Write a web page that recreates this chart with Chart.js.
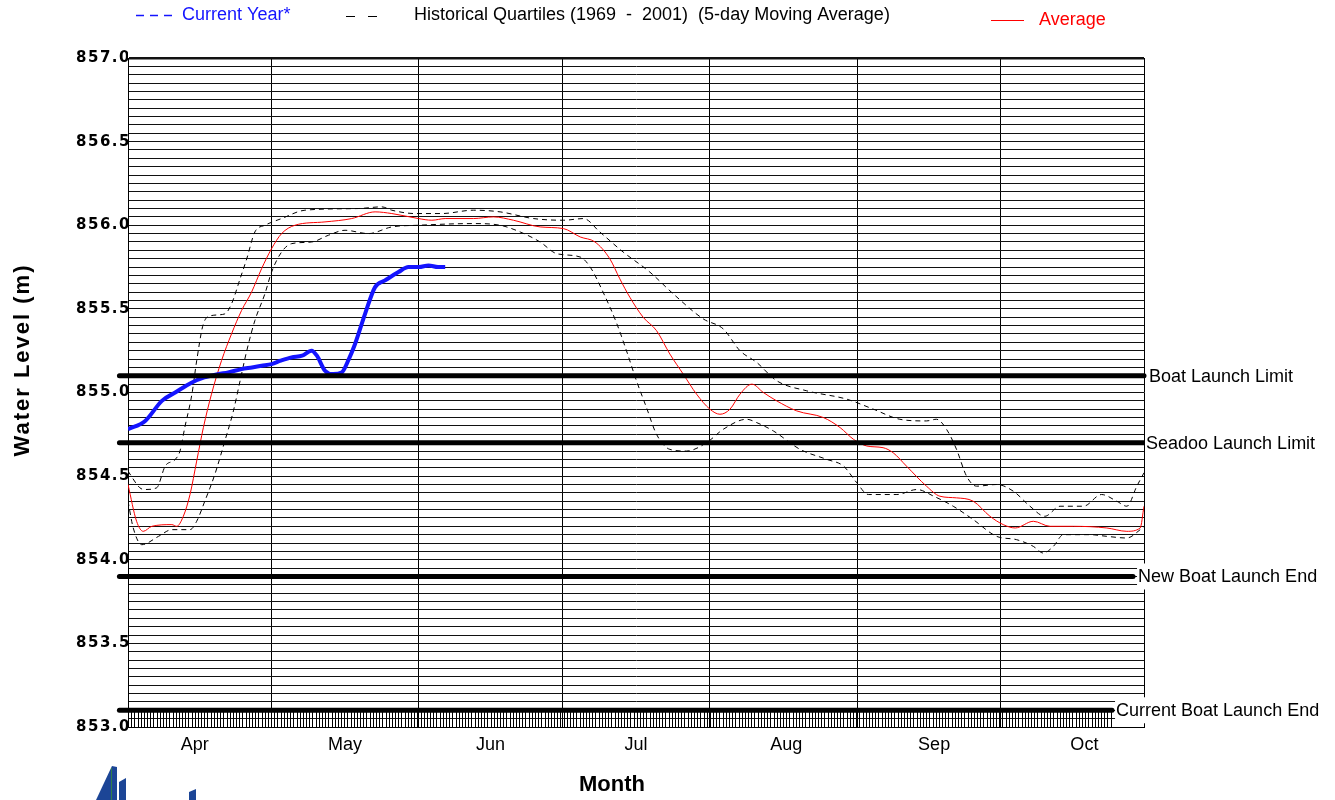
<!DOCTYPE html>
<html><head><meta charset="utf-8">
<script src="https://cdn.jsdelivr.net/npm/chart.js@4.4.1/dist/chart.umd.min.js"></script>
<style>html,body{margin:0;padding:0;background:#fff;} #wrap{width:1335px;height:800px;position:relative;}</style>
</head><body><div id="wrap"><canvas id="c" width="1335" height="800"></canvas></div>
<script>
// ---- axis / tick data (x = days since Apr 1) ----
const monthStartDays = [0, 30, 61, 91, 122, 153, 183, 213];
const monthLabelDays = [14, 45.5, 76, 106.5, 138, 169, 200.5];
const monthLabels = ['Apr', 'May', 'Jun', 'Jul', 'Aug', 'Sep', 'Oct'];
const yMin = 853.0, yMax = 857.0, yGridStep = 0.05, yLabelStep = 0.5;

// ---- Current year ----
const curDays = [0, 3.6, 7.1, 9.9, 13.4, 16, 18.9, 21, 23.8, 26, 28, 30.1, 32, 34.3, 36.5, 38.5, 39.6, 41.3, 43.0, 44.8, 46.3, 47.6, 49.7, 51.8, 53.9, 56.7, 58.8, 61, 63, 65, 66.5];
const curLevels = [854.78, 854.83, 854.95, 855.00, 855.06, 855.09, 855.11, 855.12, 855.14, 855.15, 855.16, 855.17, 855.19, 855.21, 855.22, 855.25, 855.22, 855.13, 855.11, 855.12, 855.20, 855.29, 855.47, 855.63, 855.67, 855.72, 855.75, 855.75, 855.76, 855.75, 855.75];

// ---- Average ----
const avgDays = [0, 1.8, 3.2, 5.0, 9.2, 10.2, 11.6, 13.0, 14.4, 15.8, 17.5, 19.6, 21.7, 23.8, 25.9, 28.0, 30.1, 32.2, 35.0, 41.3, 46.9, 51.8, 55.3, 60.9, 63.7, 66.5, 72.4, 76.6, 80.8, 86.4, 91.3, 94.8, 97.9, 101.0, 103.1, 105.2, 108.0, 110.8, 113.6, 116.4, 119.2, 122.0, 124.1, 126.2, 128.3, 130.8, 133.2, 136.0, 140.2, 145.8, 149.3, 152.1, 154.9, 158.3, 160.4, 163.2, 167.4, 170.2, 173.7, 177.2, 180.7, 183.5, 186.0, 189.8, 193.3, 198.2, 205.2, 209.4, 212.2, 213];
const avgLevels = [854.45, 854.23, 854.17, 854.20, 854.21, 854.20, 854.26, 854.39, 854.59, 854.79, 854.99, 855.19, 855.35, 855.49, 855.60, 855.74, 855.86, 855.95, 856.00, 856.02, 856.04, 856.08, 856.07, 856.04, 856.03, 856.04, 856.04, 856.05, 856.03, 855.99, 855.98, 855.93, 855.90, 855.80, 855.68, 855.57, 855.45, 855.37, 855.23, 855.11, 854.99, 854.90, 854.87, 854.90, 854.99, 855.05, 855.00, 854.95, 854.89, 854.85, 854.79, 854.72, 854.68, 854.67, 854.64, 854.56, 854.44, 854.38, 854.37, 854.35, 854.26, 854.21, 854.19, 854.23, 854.20, 854.20, 854.19, 854.17, 854.19, 854.32];

// ---- Historical quartiles ----
const upDays = [0, 2.5, 3.6, 6.0, 7.8, 9.9, 10.9, 11.9, 13.4, 14.4, 15.8, 17.5, 20.3, 21.7, 23.5, 24.9, 26.6, 28.7, 32.2, 37.1, 48.3, 53.2, 55.3, 60.2, 65.8, 72.4, 78.0, 85.0, 91.3, 95.5, 98.9, 103.8, 109.4, 114.3, 120.6, 124.8, 128.3, 131.8, 136.0, 142.3, 150.7, 156.3, 161.8, 167.4, 169.5, 171.6, 173.7, 175.8, 177.9, 182.1, 185.6, 189.1, 192.2, 195.4, 200.3, 204.1, 207.3, 209.4, 211.5, 213];
const upLevels = [854.53, 854.43, 854.42, 854.43, 854.56, 854.60, 854.65, 854.79, 854.99, 855.19, 855.41, 855.46, 855.47, 855.53, 855.68, 855.80, 855.96, 856.00, 856.04, 856.09, 856.10, 856.11, 856.09, 856.07, 856.07, 856.09, 856.08, 856.04, 856.03, 856.04, 855.96, 855.84, 855.72, 855.59, 855.44, 855.38, 855.25, 855.18, 855.07, 855.01, 854.96, 854.90, 854.84, 854.83, 854.84, 854.78, 854.66, 854.50, 854.44, 854.45, 854.41, 854.32, 854.26, 854.32, 854.32, 854.39, 854.35, 854.32, 854.44, 854.52];
const lowDays = [0, 1.1, 2.9, 6.4, 9.2, 13.0, 14.4, 16.1, 18.2, 20.3, 22.1, 23.5, 24.9, 26.6, 28.7, 30.1, 32.2, 34.3, 38.5, 42.0, 45.5, 50.4, 55.3, 60.9, 72.4, 78.0, 82.2, 86.4, 89.9, 94.8, 96.9, 99.6, 102.5, 104.5, 106.6, 108.7, 110.8, 113.6, 117.1, 121.3, 124.8, 129.7, 131.8, 135.3, 140.9, 146.5, 150.0, 152.8, 155.2, 161.2, 165.4, 168.9, 173.0, 177.2, 182.1, 186.3, 189.8, 191.9, 194.0, 196.1, 201.7, 205.2, 209.4, 212.2, 213];
const lowLevels = [854.35, 854.19, 854.09, 854.14, 854.18, 854.18, 854.23, 854.35, 854.51, 854.71, 854.89, 855.07, 855.25, 855.43, 855.59, 855.72, 855.84, 855.89, 855.90, 855.94, 855.97, 855.95, 855.99, 856.00, 856.01, 856.00, 855.96, 855.90, 855.83, 855.81, 855.75, 855.60, 855.41, 855.25, 855.07, 854.91, 854.75, 854.66, 854.65, 854.70, 854.78, 854.84, 854.82, 854.77, 854.66, 854.60, 854.56, 854.46, 854.39, 854.39, 854.42, 854.38, 854.32, 854.24, 854.14, 854.12, 854.08, 854.04, 854.08, 854.15, 854.15, 854.14, 854.13, 854.18, 854.20];

// ---- Launch limit reference lines ----
const limitNames = ['Boat Launch Limit', 'Seadoo Launch Limit', 'New Boat Launch End', 'Current Boat Launch End'];
const limitLevels = [855.1, 854.7, 853.9, 853.1];
const limitStartDay = -1.8;
const limitEndDays = [213, 213, 210.7, 206.3];
const limitLabelGaps = [4, 1, 4, 3];

// ---- legend / titles ----
const legendCurrent = 'Current Year*';
const legendQuartiles = 'Historical Quartiles (1969  -  2001)  (5-day Moving Average)';
const legendAverage = 'Average';
const yTitle = 'Water Level (m)';
const xTitle = 'Month';

const BLUE = '#1414ff', RED = '#ff0000';
const toXY = (xs, ys) => xs.map((d, i) => ({x: d, y: ys[i]}));

const datasets = [];
limitLevels.forEach((lv, i) => {
  datasets.push({
    label: limitNames[i], data: [{x: limitStartDay, y: lv}, {x: limitEndDays[i], y: lv}],
    borderColor: '#000', borderWidth: 5, pointRadius: 0, borderCapStyle: 'round', clip: false, order: 0
  });
});
datasets.push({label: 'Current Year', data: toXY(curDays, curLevels), borderColor: BLUE, borderWidth: 4,
  pointRadius: 0, cubicInterpolationMode: 'monotone', borderJoinStyle: 'round', order: 1});
datasets.push({label: 'Average', data: toXY(avgDays, avgLevels), borderColor: RED, borderWidth: 1,
  pointRadius: 0, cubicInterpolationMode: 'monotone', order: 2});
datasets.push({label: 'Upper quartile', data: toXY(upDays, upLevels), borderColor: '#000', borderWidth: 1,
  borderDash: [5, 4], pointRadius: 0, cubicInterpolationMode: 'monotone', order: 3});
datasets.push({label: 'Lower quartile', data: toXY(lowDays, lowLevels), borderColor: '#000', borderWidth: 1,
  borderDash: [5, 4], pointRadius: 0, cubicInterpolationMode: 'monotone', order: 3});

const xTickValues = monthStartDays.concat(monthLabelDays).sort((a, b) => a - b);
const yTickCount = Math.round((yMax - yMin) / yGridStep) + 1;
const yTickValues = Array.from({length: yTickCount}, (_, i) => Math.round((yMin + i * yGridStep) * 100) / 100);

const hatchStep = 2 / 3;

const decor = {
  id: 'decor',
  beforeDatasetsDraw(chart) {
    const {ctx, scales: {x, y}} = chart;
    const y0 = y.getPixelForValue(yMin), y1 = y.getPixelForValue(limitLevels[3]);
    ctx.save();
    ctx.strokeStyle = '#000'; ctx.lineWidth = 1;
    ctx.beginPath();
    for (let d = hatchStep; d <= limitEndDays[3]; d += hatchStep) {
      const px = Math.round(x.getPixelForValue(d)) + 0.5;
      ctx.moveTo(px, y0); ctx.lineTo(px, y1);
    }
    ctx.stroke();
    ctx.restore();
  },
  afterDatasetsDraw(chart) {
    // y tick labels (z:1) are drawn right after this hook: give them wider spacing
    try { chart.ctx.letterSpacing = '1.5px'; } catch (e) {}
  },
  afterDraw(chart) {
    const {ctx, scales: {x, y}} = chart;
    try { ctx.letterSpacing = '0px'; } catch (e) {}
    ctx.save();
    ctx.font = '18px "Liberation Sans", Arial, sans-serif';
    ctx.textBaseline = 'middle';
    limitNames.forEach((name, i) => {
      const px = x.getPixelForValue(limitEndDays[i]) + limitLabelGaps[i];
      const py = y.getPixelForValue(limitLevels[i]);
      const w = ctx.measureText(name).width;
      ctx.fillStyle = '#fff';
      ctx.fillRect(px, py - 13, w + 6, 26);
      ctx.fillStyle = '#000';
      ctx.fillText(name, px + 1, py + 1);
    });
    const dash = (segs, yy, col, lw) => {
      ctx.strokeStyle = col; ctx.lineWidth = lw; ctx.beginPath();
      segs.forEach(s => { ctx.moveTo(s[0], yy); ctx.lineTo(s[1], yy); });
      ctx.stroke();
    };
    dash([[136, 144], [150, 158], [164, 172]], 15.5, BLUE, 1.5);
    ctx.fillStyle = BLUE; ctx.fillText(legendCurrent, 182, 15);
    dash([[346, 355], [368, 377]], 16.5, '#000', 1);
    ctx.fillStyle = '#000'; ctx.fillText(legendQuartiles, 414, 15);
    dash([[991, 1024]], 20.5, RED, 1);
    ctx.fillStyle = RED; ctx.fillText(legendAverage, 1039, 20);
    ctx.fillStyle = '#000';
    ctx.font = 'bold 22px "Liberation Sans", Arial, sans-serif';
    ctx.textAlign = 'center';
    ctx.fillText(xTitle, 612, 785);
    ctx.save();
    ctx.translate(23, 360);
    ctx.rotate(-Math.PI / 2);
    try { ctx.letterSpacing = '2px'; } catch (e) {}
    ctx.fillText(yTitle, 0, 0);
    ctx.restore();
    // logo fragment
    ctx.fillStyle = '#1c4596';
    ctx.beginPath();
    ctx.moveTo(96, 800); ctx.lineTo(111, 768); ctx.lineTo(112, 766); ctx.lineTo(117, 767); ctx.lineTo(117, 800); ctx.closePath();
    ctx.fill();
    ctx.beginPath();
    ctx.moveTo(119, 800); ctx.lineTo(119, 782); ctx.lineTo(126, 778); ctx.lineTo(126, 800); ctx.closePath(); ctx.fill();
    ctx.beginPath();
    ctx.moveTo(189, 800); ctx.lineTo(189, 792); ctx.lineTo(196, 789); ctx.lineTo(196, 800); ctx.closePath(); ctx.fill();
    ctx.strokeStyle = '#2e7d4a'; ctx.lineWidth = 1;
    ctx.beginPath(); ctx.moveTo(111.5, 768); ctx.lineTo(111.5, 800); ctx.stroke();
    ctx.restore();
  }
};

new Chart(document.getElementById('c'), {
  type: 'line',
  data: {datasets},
  plugins: [decor],
  options: {
    responsive: false, animation: false, devicePixelRatio: 1,
    layout: {padding: {left: 0, right: 191, top: 58, bottom: 0}},
    plugins: {legend: {display: false}, tooltip: {enabled: false}, title: {display: false}},
    scales: {
      x: {
        type: 'linear', min: 0, max: 213,
        afterBuildTicks: s => { s.ticks = xTickValues.map(v => ({value: v})); },
        afterFit: s => { s.height = 73; },
        ticks: {
          autoSkip: false, maxRotation: 0, padding: 7, color: '#000',
          font: {family: '"Liberation Sans", Arial, sans-serif', size: 18},
          callback: (v) => { const i = monthLabelDays.indexOf(v); return i >= 0 ? monthLabels[i] : ''; }
        },
        grid: {
          drawTicks: false, lineWidth: 1,
          color: c => (c.tick && monthStartDays.indexOf(c.tick.value) >= 0) ? '#000' : 'rgba(0,0,0,0)'
        },
        border: {display: true, color: '#000', width: 1}
      },
      y: {
        type: 'linear', min: yMin, max: yMax,
        afterBuildTicks: s => { s.ticks = yTickValues.map(v => ({value: v})); },
        afterFit: s => { s.width = 128; },
        ticks: {
          autoSkip: false, padding: -3, color: '#000', z: 1,
          font: {family: '"DejaVu Sans", sans-serif', size: 15, weight: 'bold'},
          callback: (v) => { const r = v / yLabelStep; return Math.abs(r - Math.round(r)) < 1e-6 ? v.toFixed(1) : ''; }
        },
        grid: {
          drawTicks: false, color: '#111',
          lineWidth: c => (c.tick && Math.abs(c.tick.value - yMax) < 1e-6) ? 2.5 : 1
        },
        border: {display: true, color: '#000', width: 1}
      }
    }
  }
});
</script>
</body></html>
